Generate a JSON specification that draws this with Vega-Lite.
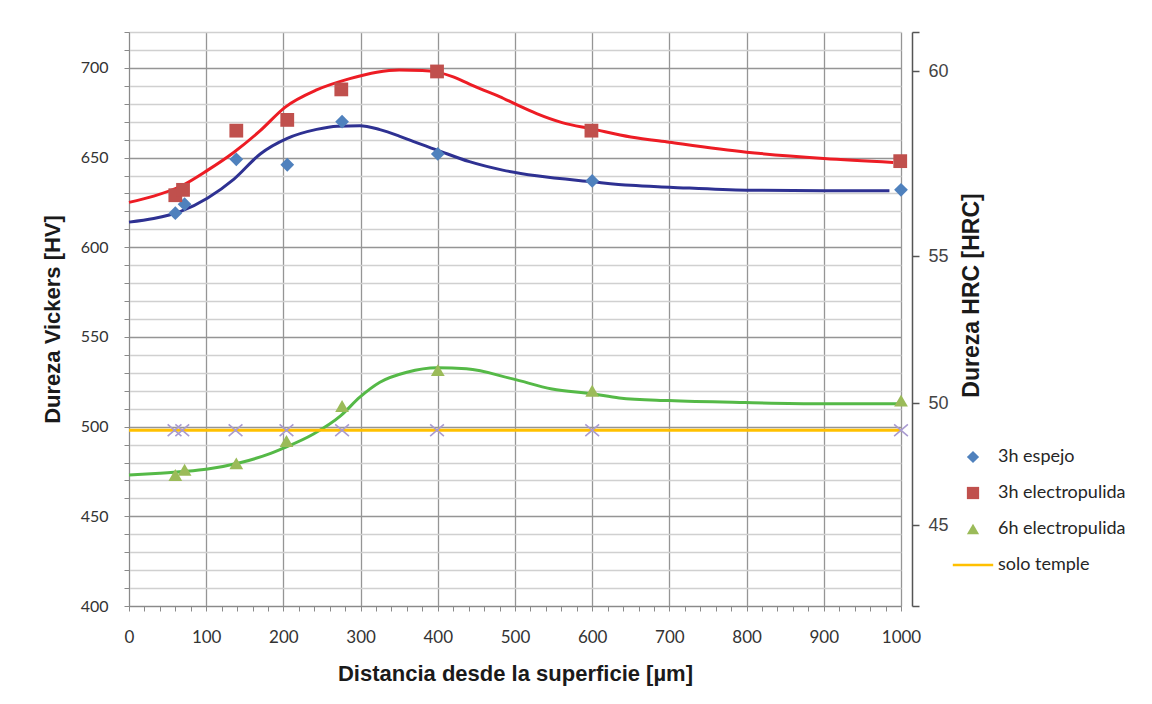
{
  "$schema": "https://vega.github.io/schema/vega-lite/v6.json",
  "width": 772,
  "height": 574,
  "autosize": {"type": "none"},
  "padding": {"left": 129, "top": 32, "right": 251, "bottom": 98},
  "background": "white",
  "config": {"view": {"stroke": null}},
  "datasets": {
    "curves": [
      {"serie": "3h electropulida", "x": 0, "hv": 625},
      {"serie": "3h electropulida", "x": 32, "hv": 628.5},
      {"serie": "3h electropulida", "x": 67, "hv": 634},
      {"serie": "3h electropulida", "x": 102, "hv": 643},
      {"serie": "3h electropulida", "x": 136, "hv": 653},
      {"serie": "3h electropulida", "x": 170, "hv": 665},
      {"serie": "3h electropulida", "x": 202, "hv": 678},
      {"serie": "3h electropulida", "x": 243, "hv": 687.7},
      {"serie": "3h electropulida", "x": 286, "hv": 694},
      {"serie": "3h electropulida", "x": 321, "hv": 697.6},
      {"serie": "3h electropulida", "x": 350, "hv": 698.8},
      {"serie": "3h electropulida", "x": 380, "hv": 698.6},
      {"serie": "3h electropulida", "x": 400, "hv": 697.5},
      {"serie": "3h electropulida", "x": 420, "hv": 695},
      {"serie": "3h electropulida", "x": 441, "hv": 691},
      {"serie": "3h electropulida", "x": 460, "hv": 687.5},
      {"serie": "3h electropulida", "x": 480, "hv": 684},
      {"serie": "3h electropulida", "x": 502, "hv": 679.5},
      {"serie": "3h electropulida", "x": 528, "hv": 674.5},
      {"serie": "3h electropulida", "x": 561, "hv": 669.5},
      {"serie": "3h electropulida", "x": 600, "hv": 666},
      {"serie": "3h electropulida", "x": 650, "hv": 661.5},
      {"serie": "3h electropulida", "x": 700, "hv": 658.5},
      {"serie": "3h electropulida", "x": 800, "hv": 653},
      {"serie": "3h electropulida", "x": 900, "hv": 649.5},
      {"serie": "3h electropulida", "x": 990, "hv": 647.3},
      {"serie": "3h espejo", "x": 0, "hv": 614},
      {"serie": "3h espejo", "x": 32, "hv": 616},
      {"serie": "3h espejo", "x": 67, "hv": 620},
      {"serie": "3h espejo", "x": 102, "hv": 627.5},
      {"serie": "3h espejo", "x": 136, "hv": 638},
      {"serie": "3h espejo", "x": 170, "hv": 652},
      {"serie": "3h espejo", "x": 205, "hv": 660.7},
      {"serie": "3h espejo", "x": 243, "hv": 665.7},
      {"serie": "3h espejo", "x": 270, "hv": 667.5},
      {"serie": "3h espejo", "x": 299, "hv": 667.8},
      {"serie": "3h espejo", "x": 325, "hv": 665.6},
      {"serie": "3h espejo", "x": 350, "hv": 662},
      {"serie": "3h espejo", "x": 368, "hv": 659},
      {"serie": "3h espejo", "x": 400, "hv": 654},
      {"serie": "3h espejo", "x": 441, "hv": 647.7},
      {"serie": "3h espejo", "x": 484, "hv": 643},
      {"serie": "3h espejo", "x": 528, "hv": 639.8},
      {"serie": "3h espejo", "x": 600, "hv": 636.5},
      {"serie": "3h espejo", "x": 650, "hv": 634.5},
      {"serie": "3h espejo", "x": 700, "hv": 633.5},
      {"serie": "3h espejo", "x": 800, "hv": 631.8},
      {"serie": "3h espejo", "x": 900, "hv": 631.5},
      {"serie": "3h espejo", "x": 985, "hv": 631.5},
      {"serie": "6h electropulida", "x": 0, "hv": 473},
      {"serie": "6h electropulida", "x": 40, "hv": 474},
      {"serie": "6h electropulida", "x": 71, "hv": 475},
      {"serie": "6h electropulida", "x": 102, "hv": 476.4},
      {"serie": "6h electropulida", "x": 145, "hv": 480},
      {"serie": "6h electropulida", "x": 179, "hv": 484.4},
      {"serie": "6h electropulida", "x": 200, "hv": 488},
      {"serie": "6h electropulida", "x": 239, "hv": 495.9},
      {"serie": "6h electropulida", "x": 274, "hv": 506},
      {"serie": "6h electropulida", "x": 299, "hv": 516.4},
      {"serie": "6h electropulida", "x": 325, "hv": 524.7},
      {"serie": "6h electropulida", "x": 360, "hv": 530.3},
      {"serie": "6h electropulida", "x": 399, "hv": 532.8},
      {"serie": "6h electropulida", "x": 437, "hv": 532.2},
      {"serie": "6h electropulida", "x": 497, "hv": 526.6},
      {"serie": "6h electropulida", "x": 548, "hv": 521},
      {"serie": "6h electropulida", "x": 600, "hv": 518.3},
      {"serie": "6h electropulida", "x": 635, "hv": 516},
      {"serie": "6h electropulida", "x": 699, "hv": 514.5},
      {"serie": "6h electropulida", "x": 798, "hv": 513.4},
      {"serie": "6h electropulida", "x": 897, "hv": 512.8},
      {"serie": "6h electropulida", "x": 1000, "hv": 512.8},
      {"serie": "solo temple", "x": 0, "hv": 498},
      {"serie": "solo temple", "x": 1000, "hv": 498}
    ],
    "puntos": [
      {"serie": "3h espejo", "x": 60, "hv": 619},
      {"serie": "3h espejo", "x": 72, "hv": 624},
      {"serie": "3h espejo", "x": 139, "hv": 649},
      {"serie": "3h espejo", "x": 205, "hv": 646},
      {"serie": "3h espejo", "x": 276, "hv": 670},
      {"serie": "3h espejo", "x": 400, "hv": 652},
      {"serie": "3h espejo", "x": 600, "hv": 637},
      {"serie": "3h espejo", "x": 1000, "hv": 632},
      {"serie": "3h electropulida", "x": 60, "hv": 629},
      {"serie": "3h electropulida", "x": 70, "hv": 632},
      {"serie": "3h electropulida", "x": 139, "hv": 665},
      {"serie": "3h electropulida", "x": 205, "hv": 671},
      {"serie": "3h electropulida", "x": 275, "hv": 688},
      {"serie": "3h electropulida", "x": 399, "hv": 698},
      {"serie": "3h electropulida", "x": 599, "hv": 665},
      {"serie": "3h electropulida", "x": 999, "hv": 648},
      {"serie": "6h electropulida", "x": 60, "hv": 473},
      {"serie": "6h electropulida", "x": 72, "hv": 476},
      {"serie": "6h electropulida", "x": 139, "hv": 479.5},
      {"serie": "6h electropulida", "x": 204, "hv": 492},
      {"serie": "6h electropulida", "x": 276, "hv": 511.5},
      {"serie": "6h electropulida", "x": 400, "hv": 531.5},
      {"serie": "6h electropulida", "x": 600, "hv": 520},
      {"serie": "6h electropulida", "x": 1000, "hv": 514.5}
    ],
    "temple": [
      {"serie": "solo temple", "x": 59, "hv": 498},
      {"serie": "solo temple", "x": 69, "hv": 498},
      {"serie": "solo temple", "x": 138, "hv": 498},
      {"serie": "solo temple", "x": 204, "hv": 498},
      {"serie": "solo temple", "x": 276, "hv": 498},
      {"serie": "solo temple", "x": 399, "hv": 498},
      {"serie": "solo temple", "x": 600, "hv": 498},
      {"serie": "solo temple", "x": 1000, "hv": 498}
    ]
  },
  "encoding": {
    "x": {
      "field": "x", "type": "quantitative",
      "scale": {"domain": [0, 1000], "nice": false, "zero": false},
      "axis": {
        "title": "Distancia desde la superficie [µm]",
        "values": [0,20,40,60,80,100,120,140,160,180,200,220,240,260,280,300,320,340,360,380,400,420,440,460,480,500,520,540,560,580,600,620,640,660,680,700,720,740,760,780,800,820,840,860,880,900,920,940,960,980,1000],
        "format": "d",
        "labelExpr": "datum.value % 100 === 0 ? datum.label : ''",
        "labelOverlap": false,
        "labelFlush": false,
        "labelBound": false,
        "grid": true,
        "gridColor": {"condition": {"test": "datum.value % 100 === 0", "value": "#959595"}, "value": "rgba(255,255,255,0)"},
        "gridWidth": 1.3,
        "domainColor": "#8a8a8a",
        "tickColor": "#8a8a8a",
        "tickSize": 5,
        "labelFont": "Lato",
        "labelFontSize": 17,
        "labelColor": "#333333",
        "labelPadding": 18,
        "titleFont": "Liberation Sans",
        "titleFontSize": 22,
        "titleFontWeight": "bold",
        "titleColor": "#1a1a1a",
        "titlePadding": 18
      }
    }
  },
  "layer": [
    {
      "data": {"name": "curves"},
      "mark": {"type": "line", "interpolate": "monotone", "strokeWidth": 3},
      "encoding": {
        "y": {
          "field": "hv", "type": "quantitative",
          "scale": {"domain": [400, 720], "nice": false, "zero": false},
          "axis": {
            "orient": "left",
            "title": "Dureza Vickers [HV]",
            "values": [400,410,420,430,440,450,460,470,480,490,500,510,520,530,540,550,560,570,580,590,600,610,620,630,640,650,660,670,680,690,700,710,720],
            "format": "d",
            "labelExpr": "datum.value % 50 === 0 ? datum.label : ''",
            "labelOverlap": false,
            "labelBound": false,
            "grid": true,
            "gridColor": {"condition": {"test": "datum.value % 50 === 0", "value": "#959595"}, "value": "#d0d0d0"},
            "gridWidth": 1.3,
            "domainColor": "#8a8a8a",
            "tickColor": "#8a8a8a",
            "tickSize": 5,
            "labelFont": "Lato",
            "labelFontSize": 16,
            "labelColor": "#333333",
            "labelPadding": 16,
            "titleFont": "Liberation Sans",
            "titleFontSize": 22,
            "titleFontWeight": "bold",
            "titleColor": "#1a1a1a",
            "titlePadding": 16
          }
        },
        "stroke": {
          "field": "serie", "type": "nominal",
          "scale": {"domain": ["solo temple", "6h electropulida", "3h electropulida", "3h espejo"], "range": ["#FFC000", "#55B947", "#ED1C24", "#2E3192"]},
          "legend": null
        }
      }
    },
    {
      "data": {"name": "temple"},
      "mark": {"type": "point", "shape": "M-1,-0.85L1,0.85M-1,0.85L1,-0.85", "filled": false, "stroke": "#A99BD1", "strokeWidth": 1.6, "size": 190, "opacity": 1},
      "encoding": {
        "y": {
          "field": "hv", "type": "quantitative",
          "scale": {"domain": [400, 720], "nice": false, "zero": false},
          "axis": {
            "orient": "right",
            "title": "Dureza HRC [HRC]",
            "values": [400, 445, 513, 595, 698, 720],
            "labelExpr": "datum.value == 698 ? '60' : datum.value == 595 ? '55' : datum.value == 513 ? '50' : datum.value == 445 ? '45' : ''",
            "labelOverlap": false,
            "labelBound": false,
            "grid": false,
            "offset": 11,
            "tickSize": 7,
            "tickWidth": 1.5,
            "tickColor": "#555555",
            "domainColor": "#555555",
            "domainWidth": 1.5,
            "labelFont": "Liberation Sans",
            "labelFontSize": 18,
            "labelColor": "#444444",
            "labelPadding": 9,
            "titleFont": "Liberation Sans",
            "titleFontSize": 23,
            "titleFontWeight": "bold",
            "titleColor": "#1a1a1a",
            "titleAngle": 270,
            "titleBaseline": "top",
            "titlePadding": 12,
            "titleY": 263
          }
        }
      }
    },
    {
      "data": {"name": "puntos"},
      "mark": {"type": "point", "filled": true, "size": 190, "opacity": 1},
      "encoding": {
        "y": {"field": "hv", "type": "quantitative", "scale": {"domain": [400, 720], "nice": false, "zero": false}, "axis": null},
        "color": {
          "field": "serie", "type": "nominal",
          "scale": {"domain": ["3h espejo", "3h electropulida", "6h electropulida", "solo temple"], "range": ["#4F81BD", "#C0504D", "#9BBB59", "#FFC000"]},
          "legend": {"title": null, "orient": "none", "legendX": 835, "legendY": 416, "symbolSize": 150, "symbolStrokeWidth": 0, "symbolOpacity": 1, "labelFont": "Lato", "labelFontSize": 18, "labelColor": "#262626", "labelOffset": 16, "rowPadding": 18}
        },
        "shape": {
          "field": "serie", "type": "nominal",
          "scale": {"domain": ["3h espejo", "3h electropulida", "6h electropulida", "solo temple"], "range": ["diamond", "square", "triangle-up", "M-3.3,-0.22L3.3,-0.22L3.3,0.22L-3.3,0.22Z"]},
          "legend": {"title": null, "orient": "none", "legendX": 835, "legendY": 416, "symbolSize": 150, "symbolStrokeWidth": 0, "symbolOpacity": 1, "labelFont": "Lato", "labelFontSize": 18, "labelColor": "#262626", "labelOffset": 16, "rowPadding": 18}
        }
      }
    }
  ],
  "resolve": {"axis": {"y": "independent"}}
}
